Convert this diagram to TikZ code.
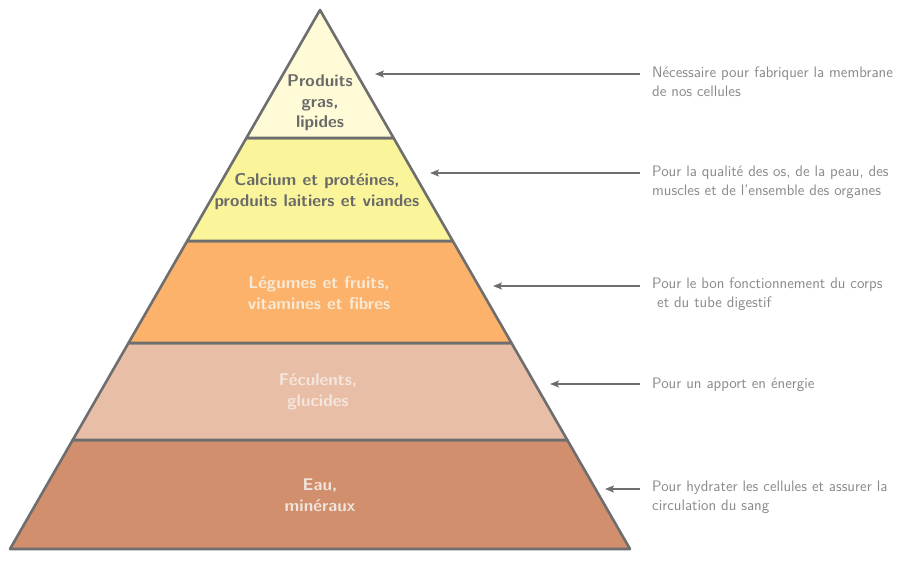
\documentclass[tikz,border=0pt]{standalone}
\usepackage{fontspec}
\usetikzlibrary{arrows.meta}
\definecolor{edgegray}{HTML}{6E6E6E}
\definecolor{darktxt}{HTML}{6A6A6A}
\definecolor{sidetxt}{HTML}{8A8A8A}
\definecolor{lightA}{HTML}{F6EAD6}
\definecolor{lightB}{HTML}{F4E6DC}
\definecolor{lightC}{HTML}{EFE4DB}
\definecolor{layA}{HTML}{FEFBD6}
\definecolor{layB}{HTML}{FAF59B}
\definecolor{layC}{HTML}{FDB26B}
\definecolor{layD}{HTML}{E9BEA7}
\definecolor{layE}{HTML}{D28F6D}
\tikzset{
  layer/.style={draw=edgegray, line width=2.6pt, line join=round},
  ptext/.style={align=center, inner sep=0pt, font=\sffamily\bfseries\fontsize{17}{20.5}\selectfont},
  sidetext/.style={align=left, anchor=north west, inner sep=0pt, text=sidetxt, font=\sffamily\fontsize{15.2}{18.3}\selectfont},
  pointer/.style={draw=edgegray, line width=1.4pt, -{Stealth[length=9pt,width=7pt,inset=2pt]}}
}
\begin{document}
\begin{tikzpicture}[x=1pt,y=-1pt]
\useasboundingbox (0,0) rectangle (900,580);
% layers
\fill[white] (0,0) rectangle (900,580);
\path[layer, fill=layE] (10,549) -- (630,549) -- (567.3,440) -- (72.7,440) -- cycle;
\path[layer, fill=layD] (72.7,440) -- (567.3,440) -- (511.5,343) -- (128.5,343) -- cycle;
\path[layer, fill=layC] (128.5,343) -- (511.5,343) -- (452.8,241) -- (187.2,241) -- cycle;
\path[layer, fill=layB] (187.2,241) -- (452.8,241) -- (393.6,138) -- (246.4,138) -- cycle;
\path[layer, fill=layA] (246.4,138) -- (393.6,138) -- (320,10) -- cycle;
% pyramid texts
\node[ptext, text=darktxt] (p1) at (320,103) {Produits\\gras,\\lipides};
\node[ptext, text=darktxt] (p2) at (317,191.5) {Calcium et protéines,\\produits laitiers et viandes};
\node[ptext, text=lightA] (p3) at (319,293) {Légumes et fruits,\\vitamines et fibres};
\node[ptext, text=lightB] (p4) at (318,392) {Féculents,\\glucides};
\node[ptext, text=lightC] (p5) at (320,495) {Eau,\\minéraux};
% side texts
\node[sidetext] (d1) at (652,67) {Nécessaire pour fabriquer la membrane\\de nos cellules};
\node[sidetext] (d2) at (652,166) {Pour la qualité des os, de la peau, des\\muscles et de l'ensemble des organes};
\node[sidetext] (d3) at (652,278) {Pour le bon fonctionnement du corps\\\ et du tube digestif};
\node[sidetext] (d4) at (652,378) {Pour un apport en énergie};
\node[sidetext] (d5) at (652,481) {Pour hydrater les cellules et assurer la\\circulation du sang};
% arrows
\coordinate (s1) at (640,74);  \coordinate (t1) at (375,74);
\coordinate (s2) at (640,173); \coordinate (t2) at (430,173);
\coordinate (s3) at (640,286); \coordinate (t3) at (493,286);
\coordinate (s4) at (640,384); \coordinate (t4) at (550,384);
\coordinate (s5) at (640,489); \coordinate (t5) at (605,489);
\draw[pointer] (s1) -- (t1);
\draw[pointer] (s2) -- (t2);
\draw[pointer] (s3) -- (t3);
\draw[pointer] (s4) -- (t4);
\draw[pointer] (s5) -- (t5);
\end{tikzpicture}
\end{document}
